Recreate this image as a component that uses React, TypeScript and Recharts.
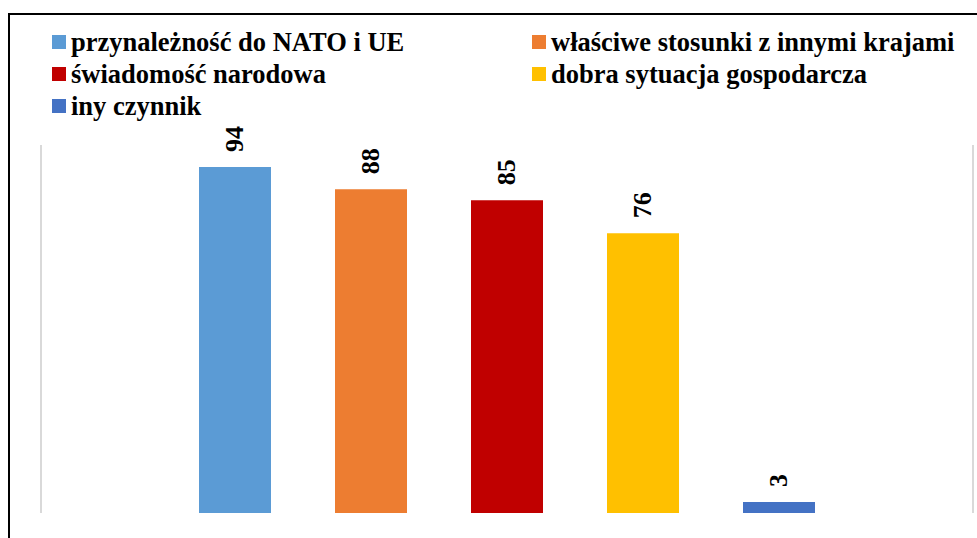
import React from 'react';
import { BarChart, Bar, XAxis, YAxis, CartesianGrid, Legend, LabelList } from 'recharts';

const seriesNames = [
  'przynależność do NATO i UE',
  'właściwe stosunki z innymi krajami',
  'świadomość narodowa',
  'dobra sytuacja gospodarcza',
  'iny czynnik',
];
const seriesValues = [94, 88, 85, 76, 3];
const seriesColors = ['#5B9BD5', '#ED7D31', '#C00000', '#FFC000', '#4472C4'];

const keys = seriesNames.map((_, i) => `s${i}`);
const row: Record<string, string | number> = { name: '' };
keys.forEach((k, i) => {
  row[k] = seriesValues[i];
});
const data = [row];

const FONT = 'Liberation Serif, Times New Roman, serif';

const renderLegend = () => (
  <div style={{ display: 'flex', flexWrap: 'wrap', width: 920 }}>
    {seriesNames.map((n, i) => (
      <div
        key={n}
        style={{
          display: 'flex',
          alignItems: 'center',
          width: i % 2 === 0 ? 480 : 440,
          height: 32,
          whiteSpace: 'nowrap',
          fontFamily: FONT,
          fontWeight: 'bold',
          fontSize: 26.5,
          color: '#000',
        }}
      >
        <span style={{ display: 'inline-block', width: 14, height: 14, background: seriesColors[i], marginRight: 5 }} />
        {n}
      </div>
    ))}
  </div>
);

const RotatedLabel = (props: any) => {
  const { x, y, width, value } = props;
  const cx = Number(x) + Number(width) / 2;
  const ty = Number(y) - 15;
  return (
    <text
      x={cx}
      y={ty}
      transform={`rotate(-90 ${cx} ${ty})`}
      textAnchor="start"
      dominantBaseline="central"
      fontFamily={FONT}
      fontWeight="bold"
      fontSize={26}
      fill="#000"
    >
      {value}
    </text>
  );
};

export default function App() {
  return (
    <div style={{ position: 'fixed', left: 0, top: 0, width: 977, height: 538, overflow: 'hidden', background: '#fff' }}>
      <div
        style={{
          position: 'absolute',
          left: 8,
          top: 13,
          width: 1000,
          height: 1000,
          border: '2px solid #000',
          boxSizing: 'border-box',
        }}
      />
      <div style={{ position: 'absolute', left: 0, top: 0 }}>
        <BarChart
          width={977}
          height={538}
          data={data}
          margin={{ top: 145, right: 4, bottom: 25, left: 41 }}
          barSize={72}
          barGap={64}
        >
          <CartesianGrid horizontal={false} verticalPoints={[41, 973]} stroke="#d9d9d9" strokeWidth={2} />
          <XAxis dataKey="name" hide />
          <YAxis hide domain={[0, 100]} />
          <Legend
            verticalAlign="middle"
            align="center"
            layout="horizontal"
            content={renderLegend}
            wrapperStyle={{ top: 26, left: 52, width: 920 }}
          />
          {keys.map((k, i) => (
            <Bar key={k} dataKey={k} name={seriesNames[i]} fill={seriesColors[i]} isAnimationActive={false}>
              <LabelList dataKey={k} content={RotatedLabel} />
            </Bar>
          ))}
        </BarChart>
      </div>
    </div>
  );
}
